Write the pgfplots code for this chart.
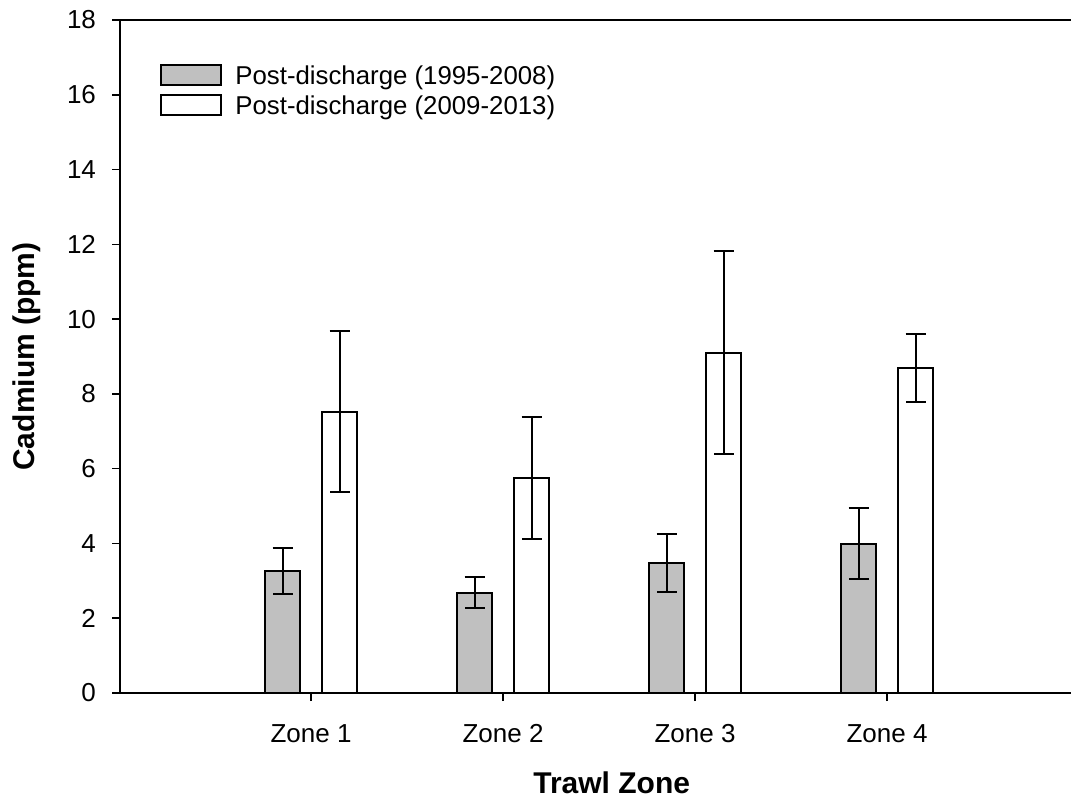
\documentclass[border=0pt]{standalone}
\usepackage{fontspec}
\setmainfont{Liberation Sans}
\usepackage{pgfplots}
\pgfplotsset{compat=1.18}
\definecolor{barg}{RGB}{192,192,192}
\pgfplotsset{barlegend/.style={legend image code/.code={\draw[##1,line width=1pt] (0pt,-0.5pt) rectangle (30pt,9.5pt);}}}
\begin{document}
\begin{tikzpicture}
\begin{axis}[
  name=ax,
  scale only axis,
  width=475.5pt, height=336.5pt,
  xmin=0.005, xmax=4.958,
  ymin=0, ymax=18,
  axis x line*=bottom, axis y line*=left,
  axis line style={line width=1pt},
  xtick={1,2,3,4}, xticklabels={Zone 1,Zone 2,Zone 3,Zone 4},
  ytick={0,2,...,18},
  tick align=outside,
  major tick length=4pt,
  tick style={line width=0.8pt, black},
  /pgf/number format/assume math mode=true,
  tick label style={font=\fontsize{13}{15}\selectfont},
  yticklabel style={xshift=-4.5pt},
  xticklabel style={text height=9.5pt, text depth=2.5pt, inner sep=0pt, yshift=-11pt},
  ylabel={Cadmium (ppm)},
  xlabel={Trawl Zone},
  label style={font=\fontsize{15}{18}\selectfont\bfseries},
  ylabel style={at={(axis description cs:-0.0904,0.5)}, anchor=base, inner sep=0pt},
  xlabel style={at={(axis description cs:0.517,-0.1486)}, anchor=base, inner sep=0pt},
  ybar,
  bar width=17.5pt,
  error bars/y dir=both,
  error bars/y explicit,
  error bars/error mark options={rotate=90, line width=1pt, mark size=5pt, black},
  error bars/error bar style={line width=1pt, black},
  barlegend,
  legend cell align=left,
  legend style={at={(axis description cs:0,1)}, anchor=north west, xshift=20pt, yshift=-22pt,
    draw=none, fill=none, inner sep=0pt, row sep=2.5pt, column sep=6.5pt,
    cells={anchor=base west},
    nodes={inner sep=0pt, text height=9.5pt, text depth=2.5pt, font=\fontsize{12.9}{15}\selectfont}},
]
\addplot[fill=barg, draw=black, line width=1pt, bar shift=-14.25pt] table[x=x, y=y, y error=e] {
x y e
1 3.26 0.62
2 2.68 0.41
3 3.47 0.77
4 3.99 0.945
};
\addlegendentry{Post-discharge (1995-2008)}
\addplot[fill=white, draw=black, line width=1pt, bar shift=14.25pt] table[x=x, y=y, y error=e] {
x y e
1 7.52 2.15
2 5.75 1.63
3 9.10 2.71
4 8.70 0.91
};
\addlegendentry{Post-discharge (2009-2013)}
\draw[line width=1pt] (rel axis cs:0,1) -- (rel axis cs:1,1);
\end{axis}
\pgfresetboundingbox
\useasboundingbox ([xshift=-60pt,yshift=-55pt]ax.south west) rectangle ([yshift=10pt]ax.north east);
\end{tikzpicture}
\end{document}
